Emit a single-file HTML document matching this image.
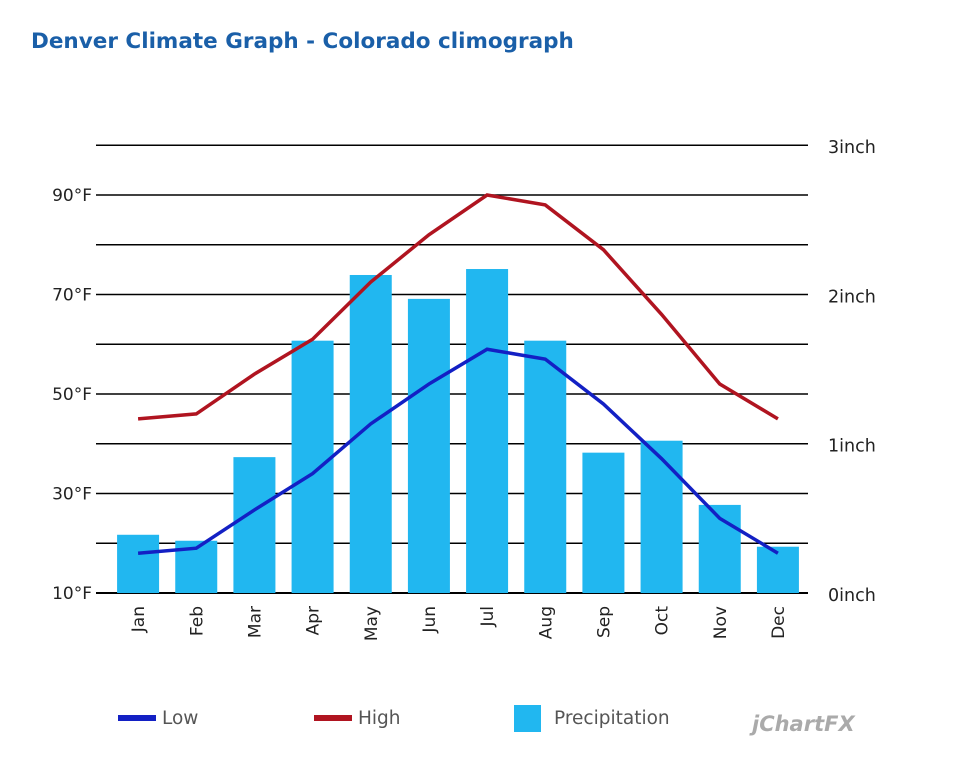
<!DOCTYPE html>
<html><head><meta charset="utf-8"><style>
body{margin:0;background:#fff;width:968px;height:760px;overflow:hidden;font-family:"DejaVu Sans",sans-serif}
</style></head><body>
<svg id="c" width="968" height="760" style="font-family:'DejaVu Sans',sans-serif">
<text x="31" y="48" font-size="21.5" font-weight="bold" fill="#1a5fa8">Denver Climate Graph - Colorado climograph</text>
<g id="grid"></g><g id="bars"></g><g id="lines"></g><g id="axes"></g>
<g font-size="18.5" fill="#555">
<g><rect x="118" y="715" width="38" height="6" fill="#1320c4"/><text x="162" y="724">Low</text></g>
<g><rect x="314" y="715" width="38" height="6" fill="#b01420"/><text x="358" y="724">High</text></g>
<g><rect x="514" y="705" width="27" height="27" fill="#21b7f0"/><text x="554" y="724">Precipitation</text></g>
</g>
<text x="752" y="731" font-size="21" font-style="italic" font-weight="bold" fill="#aaa">jChartFX</text>
</svg>
<script>
const months=["Jan","Feb","Mar","Apr","May","Jun","Jul","Aug","Sep","Oct","Nov","Dec"];
const precip=[0.39,0.35,0.91,1.69,2.13,1.97,2.17,1.69,0.94,1.02,0.59,0.31];
const high=[45,46,54,61,72.5,82,90,88,79,66,52,45];
const low=[18,19,26.7,34,44,52,59,57,48,37,25,18];
const leftTicks=[10,30,50,70,90];
const rightTicks=[0,1,2,3];
const NS="http://www.w3.org/2000/svg";
function mk(t,a,p){const e=document.createElementNS(NS,t);for(const k in a)e.setAttribute(k,a[k]);p.appendChild(e);return e;}
const x0=109,x1=807,bw=(x1-x0)/12;
const xC=i=>x0+bw*(i+0.5);
const yT=v=>593-(v-10)*4.975;
const yP=v=>593-v*149.3;
const grid=document.getElementById('grid');
for(let v=10;v<=100;v+=10){const l=mk('line',{x1:96,x2:808,y1:yT(v),y2:yT(v),stroke:'#000','stroke-width':v===10?2:1.5},grid);

}
const axes=document.getElementById('axes');
leftTicks.forEach(v=>{const t=mk('text',{x:92,y:yT(v)+6,'text-anchor':'end','font-size':17,fill:'#222'},axes);t.textContent=v+'°F';

});
rightTicks.forEach(v=>{const t=mk('text',{x:828,y:yP(v)+8,'font-size':17.5,fill:'#222'},axes);t.textContent=v+'inch';

});
const bars=document.getElementById('bars');
months.forEach((m,i)=>{const r=mk('rect',{x:xC(i)-21,y:yP(precip[i]),width:42,height:593-yP(precip[i]),fill:'#21b7f0'},bars);


const t=mk('text',{transform:`translate(${xC(i)+6},606) rotate(-90)`,'text-anchor':'end','font-size':17,fill:'#222'},axes);t.textContent=m;

});
const lines=document.getElementById('lines');
[[high,'#b01420','high-line'],[low,'#1320c4','low-line']].forEach(([d,c,n])=>{
const p=mk('polyline',{points:d.map((v,i)=>xC(i)+','+yT(v)).join(' '),fill:'none',stroke:c,'stroke-width':3.5},lines);

});
</script>
</body></html>
